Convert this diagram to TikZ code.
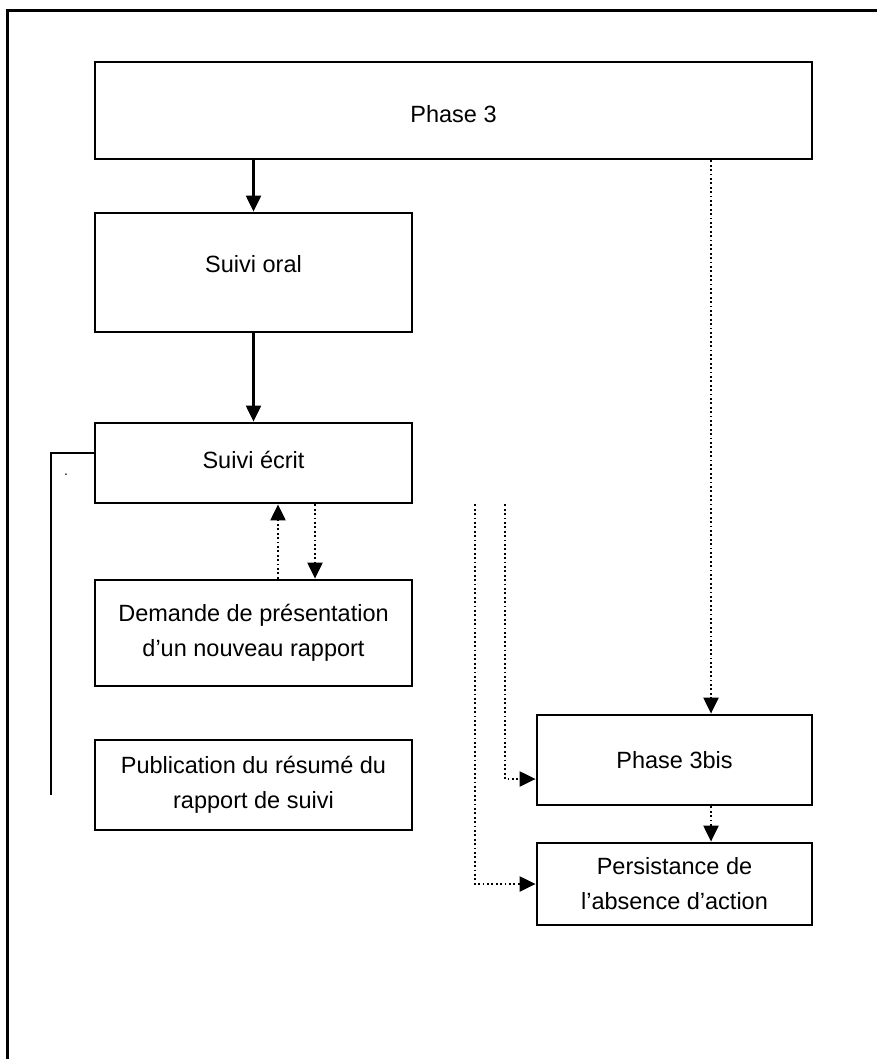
\documentclass[tikz,border=0pt]{standalone}
\usepackage{fontspec}
\setmainfont{Liberation Sans}
\usetikzlibrary{arrows.meta, positioning}
\tikzset{box/.style={draw,line width=2.8pt,inner sep=0pt,align=center,font=\fontsize{23.5}{35}\selectfont},
         solidarrow/.style={line width=2.2pt,-{Triangle[width=15pt,length=16pt]}},
         dotarrow/.style={line width=2.2pt,dash pattern=on 1.8pt off 2.6pt,-{Triangle[width=15pt,length=16pt]}}}

\begin{document}
\begin{tikzpicture}[x=1pt,y=-1pt]
        \useasboundingbox (0,0) rectangle (877,1059);
        \draw[line width=3pt](7,1059)--(7,11)--(877,11);
        \node[box,minimum width=717pt,minimum height=97pt,text height=25pt](phase3)at(453.5,110.5){Phase 3};
        \node[box,minimum width=317pt,minimum height=119pt,text depth=18pt](suivioral)at(253.5,272.5){Suivi oral};
        \node[box,minimum width=317pt,minimum height=80pt,text depth=6pt](suiviecrit)at(253.5,463){Suivi écrit};
        \node[box,minimum width=317pt,minimum height=106pt](demande)at(253.5,633){Demande de présentation\\d’un nouveau rapport};
        \node[box,minimum width=317pt,minimum height=90pt](publication)at(253.5,785){Publication du résumé du\\rapport de suivi};
        \node[box,minimum width=275pt,minimum height=90pt](phasebis)at(674.5,760){Phase 3bis};
        \node[box,minimum width=275pt,minimum height=82pt](persistance)at(674.5,884){Persistance de\\l’absence d’action};
        \node[inner sep=0pt,font=\fontsize{14}{14}\selectfont](dotmark)at(66,475){.};
        % bracket on the left
        \coordinate(bracketstart)at([yshift=10pt]suiviecrit.west);
        \coordinate(bracketend)at(51,795);
        \draw[line width=1.8pt](bracketstart)--(bracketend|-bracketstart)--(bracketend);
        \coordinate(bisup)at([xshift=36.5pt]phasebis.north);
        \draw[solidarrow](phase3.south-|suivioral.north)--(suivioral.north);
        \draw[solidarrow](suivioral.south)--(suiviecrit.north);
        \draw[dotarrow]([xshift=24.5pt]demande.north)--([xshift=24.5pt]suiviecrit.south);
        \draw[dotarrow]([xshift=61.5pt]suiviecrit.south)--([xshift=61.5pt]demande.north);
        \draw[dotarrow](phase3.south-|bisup)--(bisup);
        \draw[dotarrow]([xshift=251.5pt]suiviecrit.south)|-([yshift=-19pt]phasebis.west);
        \draw[dotarrow]([xshift=221.5pt]suiviecrit.south)|-(persistance.west);
        \draw[dotarrow]([xshift=36.5pt]phasebis.south)--([xshift=36.5pt]persistance.north);
    \end{tikzpicture}
\end{document}
